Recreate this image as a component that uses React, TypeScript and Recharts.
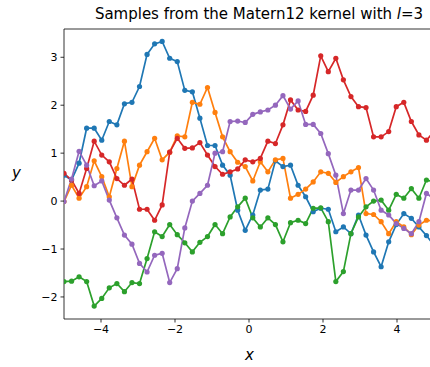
import React from "react";
import { LineChart, Line, XAxis, YAxis, ReferenceArea } from "recharts";

// sample grid (50 points from -5 to 5)
const xs = [
  -5.0, -4.796, -4.592, -4.388, -4.184, -3.98, -3.776, -3.571, -3.367, -3.163,
  -2.959, -2.755, -2.551, -2.347, -2.143, -1.939, -1.735, -1.531, -1.327, -1.122,
  -0.918, -0.714, -0.51, -0.306, -0.102, 0.102, 0.306, 0.51, 0.714, 0.918,
  1.122, 1.327, 1.531, 1.735, 1.939, 2.143, 2.347, 2.551, 2.755, 2.959,
  3.163, 3.367, 3.571, 3.776, 3.98, 4.184, 4.388, 4.592, 4.796, 5.0,
];

const sample0 = [
  0.54, 0.44, 0.79, 1.52, 1.52, 1.27, 1.66, 1.59, 2.03, 2.06,
  2.39, 3.06, 3.28, 3.33, 2.98, 2.91, 2.31, 2.28, 1.73, 1.16,
  1.16, 0.75, 0.54, -0.19, -0.61, -0.29, 0.23, 0.25, 0.84, 0.72,
  0.75, 0.33, 0.09, -0.22, -0.15, -0.17, -0.64, -0.54, -0.68, -0.29,
  -0.71, -1.06, -1.37, -0.85, -0.49, -0.26, -0.36, -0.54, -0.72, -0.92,
];
const sample1 = [
  -0.01, 0.33, 0.06, 0.3, 0.84, 0.51, 0.09, 0.68, 1.25, 0.3,
  0.75, 1.03, 1.31, 0.86, 1.02, 1.36, 1.34, 2.06, 2.02, 2.37,
  1.85, 1.34, 1.03, 0.81, 0.72, 0.42, 0.82, 0.61, 0.86, 0.89,
  0.06, 0.14, 0.25, 0.4, 0.61, 0.58, 0.39, 0.51, 0.61, 0.7,
  -0.26, -0.28, -0.43, -0.68, -0.43, -0.54, -0.7, -0.5, -0.4, -0.42,
];
const sample2 = [
  -1.68, -1.67, -1.58, -1.68, -2.19, -2.03, -1.81, -1.72, -1.89, -1.7,
  -1.72, -1.2, -0.64, -0.74, -0.49, -0.7, -0.87, -1.06, -0.86, -0.74,
  -0.49, -0.68, -0.33, -0.12, 0.06, -0.35, -0.54, -0.35, -0.49, -0.85,
  -0.45, -0.4, -0.47, -0.15, -0.14, -0.43, -1.68, -1.47, -0.68, -0.33,
  -0.12, 0.0, 0.02, -0.19, 0.14, 0.06, 0.26, 0.06, 0.44, 0.4,
];
const sample3 = [
  0.58, 0.44, 0.16, 0.68, 1.25, 0.96, 0.82, 0.47, 0.33, 0.46,
  -0.17, -0.17, -0.4, -0.08, 1.02, 1.31, 1.1, 1.11, 1.22, 0.96,
  0.72, 0.56, 0.61, 0.67, 0.86, 0.82, 0.89, 1.25, 1.2, 1.59,
  2.11, 1.9, 1.87, 2.21, 3.03, 2.7, 2.98, 2.53, 2.18, 1.97,
  1.95, 1.34, 1.34, 1.45, 1.97, 2.06, 1.66, 1.38, 1.27, 1.45,
];
const sample4 = [
  -0.01, 0.46, 1.04, 0.75, 0.32, 0.42, 0.02, -0.35, -0.71, -0.9,
  -1.3, -1.48, -1.13, -1.09, -1.7, -1.41, -0.56, 0.0, 0.16, 0.33,
  1.0, 1.03, 1.66, 1.67, 1.64, 1.81, 1.86, 1.9, 2.0, 2.2,
  1.92, 2.09, 1.6, 1.6, 1.41, 0.99, 0.54, -0.26, 0.23, 0.23,
  0.47, 0.23, -0.19, -0.29, -0.47, -0.57, -0.68, -0.43, 0.16, 0.05,
];

const xTicks = [-4, -2, 0, 2, 4];
const yTicks = [-2, -1, 0, 1, 2, 3];

const COLORS = ["#1f77b4", "#ff7f0e", "#2ca02c", "#d62728", "#9467bd"];
const samples = [sample0, sample1, sample2, sample3, sample4];

const data = xs.map((x, i) => ({
  x,
  s0: sample0[i],
  s1: sample1[i],
  s2: sample2[i],
  s3: sample3[i],
  s4: sample4[i],
}));

const Y_MIN = -2.46;
const Y_MAX = 3.59;
const FONT = "'DejaVu Sans', sans-serif";

const fmt = (v: number) => (v < 0 ? `\u2212${Math.abs(v)}` : `${v}`);

export default function App() {
  return (
    <div style={{ position: "absolute", left: 0, top: 0, width: 430, height: 367, overflow: "hidden", background: "#fff" }}>
      <LineChart width={442} height={367} data={data} margin={{ top: 29, right: 8, bottom: 0, left: 0 }}>
        <XAxis
          dataKey="x"
          type="number"
          domain={[-5, 5]}
          ticks={xTicks}
          tickFormatter={fmt}
          allowDataOverflow
          height={48}
          axisLine={false}
          tickLine={{ stroke: "#000", strokeWidth: 0.8 }}
          tickSize={3.5}
          tickMargin={3}
          tick={{ fill: "#000", fontSize: 11, fontFamily: FONT }}
        />
        <YAxis
          type="number"
          domain={[Y_MIN, Y_MAX]}
          ticks={yTicks}
          tickFormatter={fmt}
          allowDataOverflow
          width={64}
          axisLine={false}
          tickLine={{ stroke: "#000", strokeWidth: 0.8 }}
          tickSize={3.5}
          tickMargin={3}
          tick={{ fill: "#000", fontSize: 11, fontFamily: FONT }}
        />
        {samples.map((_, k) => (
          <Line
            key={k}
            dataKey={`s${k}`}
            stroke={COLORS[k]}
            strokeWidth={1.7}
            dot={{ r: 2.6, fill: COLORS[k], stroke: COLORS[k], strokeWidth: 0 }}
            isAnimationActive={false}
          />
        ))}
        <ReferenceArea x1={-5} x2={5} y1={Y_MIN} y2={Y_MAX} fill="none" stroke="#000" strokeWidth={0.8} ifOverflow="visible" />
      </LineChart>
      <div style={{ position: "absolute", left: 0, width: 518, top: 5, textAlign: "center", fontFamily: FONT, fontSize: 15, color: "#000", whiteSpace: "nowrap" }}>
        Samples from the Matern12 kernel with <i>l</i>=3
      </div>
      <div style={{ position: "absolute", left: 245, top: 346, fontFamily: FONT, fontSize: 15, fontStyle: "italic", color: "#000" }}>x</div>
      <div style={{ position: "absolute", left: 12, top: 164, fontFamily: FONT, fontSize: 15, fontStyle: "italic", color: "#000" }}>y</div>
    </div>
  );
}
